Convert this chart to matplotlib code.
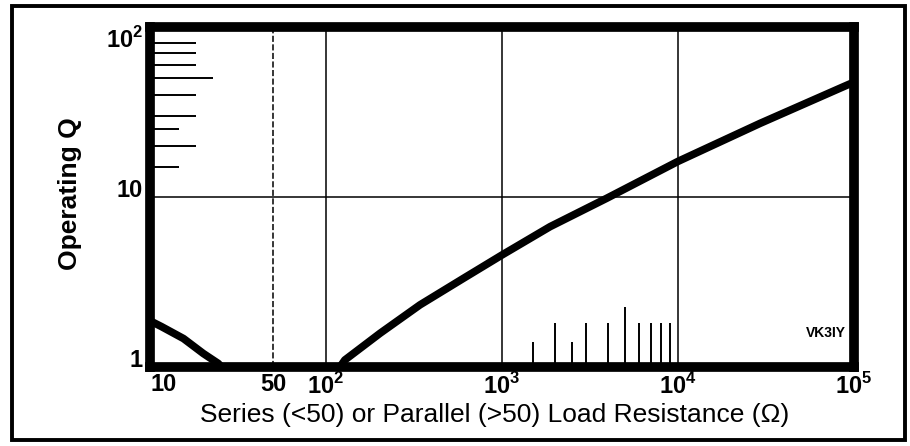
import matplotlib
matplotlib.use("Agg")
import matplotlib.pyplot as plt
from matplotlib.patches import Rectangle

plt.rcParams["font.family"] = ["Liberation Sans", "DejaVu Sans"]
plt.rcParams["mathtext.fontset"] = "custom"
plt.rcParams["mathtext.rm"] = "Liberation Sans:bold"
plt.rcParams["mathtext.bf"] = "Liberation Sans:bold"

# Operating Q curve, series branch (R < 50 ohm)
series_r = [10, 11.6, 15.5, 20.1, 24.4, 25.5]
series_q = [1.87, 1.73, 1.47, 1.20, 1.05, 1.0]

# Operating Q curve, parallel branch (R > 50 ohm)
parallel_r = [120, 128, 203, 342, 603, 1000, 1875, 3936, 10000, 29240, 86900, 100000]
parallel_q = [1.0, 1.10, 1.58, 2.32, 3.32, 4.56, 6.69, 9.83, 16.2, 27.1, 44.5, 47.4]

# Axis ticks and labels
x_ticks = [10, 50, 100, 1000, 10000, 100000]
x_tick_labels = ["10", "50", r"$10^2$", r"$10^3$", r"$10^4$", r"$10^5$"]
y_ticks = [1, 10, 100]
y_tick_labels = ["1", "10", r"$10^2$"]

# Scale marks along the inside of the left axis (Q) and bottom axis (R)
q_marks = [15, 20, 25, 30, 40, 50, 60, 70, 80]
q_mark_kind = ["short", "normal", "short", "normal", "normal", "long", "normal", "normal", "normal"]
r_marks = [1500, 2000, 2500, 3000, 4000, 5000, 6000, 7000, 8000, 9000]
r_mark_kind = ["short", "normal", "short", "normal", "normal", "long", "normal", "normal", "normal", "normal"]

W, H = 910, 446
fig = plt.figure(figsize=(W / 100, H / 100), dpi=100)
fig.patch.set_facecolor("white")

# Outer frame around the whole figure
fig.add_artist(Rectangle((12 / W, 6 / H), (905 - 12) / W, (440 - 6) / H,
                         transform=fig.transFigure, fill=False,
                         edgecolor="black", linewidth=2.8))

ax = fig.add_axes([150 / W, 79 / H, 704 / W, 340 / H])
ax.set_xscale("log")
ax.set_yscale("log")
ax.set_xlim(10, 1e5)
ax.set_ylim(1, 100)
ax.minorticks_off()

for sp in ax.spines.values():
    sp.set_linewidth(7)
    sp.set_color("black")

# Grid lines
for xv in [100, 1000, 10000]:
    ax.axvline(xv, color="black", lw=1.1, zorder=1)
ax.axvline(50, color="black", lw=1.1, ls=(0, (4, 1.6)), zorder=1)
ax.axhline(10, color="black", lw=1.1, zorder=1)

# Inner scale marks
q_len = {"short": 0.041, "normal": 0.065, "long": 0.0895}
for q, k in zip(q_marks, q_mark_kind):
    ax.hlines(q, 0, q_len[k], transform=ax.get_yaxis_transform(),
              color="black", lw=1.4, zorder=1)
r_len = {"short": 0.074, "normal": 0.128, "long": 0.177}
for r, k in zip(r_marks, r_mark_kind):
    ax.vlines(r, 0, r_len[k], transform=ax.get_xaxis_transform(),
              color="black", lw=1.4, zorder=1)

# Curves
ax.plot(series_r, series_q, color="black", lw=5.5, solid_capstyle="butt",
        solid_joinstyle="round", zorder=2)
ax.plot(parallel_r, parallel_q, color="black", lw=5.5, solid_capstyle="butt",
        solid_joinstyle="round", zorder=2)

# Ticks
ax.set_xticks(x_ticks)
ax.set_xticklabels(x_tick_labels, fontsize=17, fontweight="bold")
ax.set_yticks(y_ticks)
ax.set_yticklabels(y_tick_labels, fontsize=17, fontweight="bold")
ax.tick_params(axis="both", length=0)
ax.tick_params(axis="x", pad=4)
ax.tick_params(axis="y", pad=5)

xl = ax.get_xticklabels()
xl[0].set_horizontalalignment("left")
yl = ax.get_yticklabels()
yl[0].set_verticalalignment("baseline")
yl[1].set_verticalalignment("baseline")
yl[2].set_verticalalignment("top")

ax.set_xlabel("Series (<50) or Parallel (>50) Load Resistance (\u03a9)", fontsize=19)
ax.xaxis.set_label_coords(0.49, -0.105)
ax.set_ylabel("Operating Q", fontsize=19, fontweight="bold")
ax.yaxis.set_label_coords(-0.097, 0.51)

ax.text(0.988, 0.10, "VK3IY", transform=ax.transAxes, ha="right", va="center",
        fontsize=10, fontweight="bold")

fig.savefig("out.png", dpi=100, facecolor="white")
